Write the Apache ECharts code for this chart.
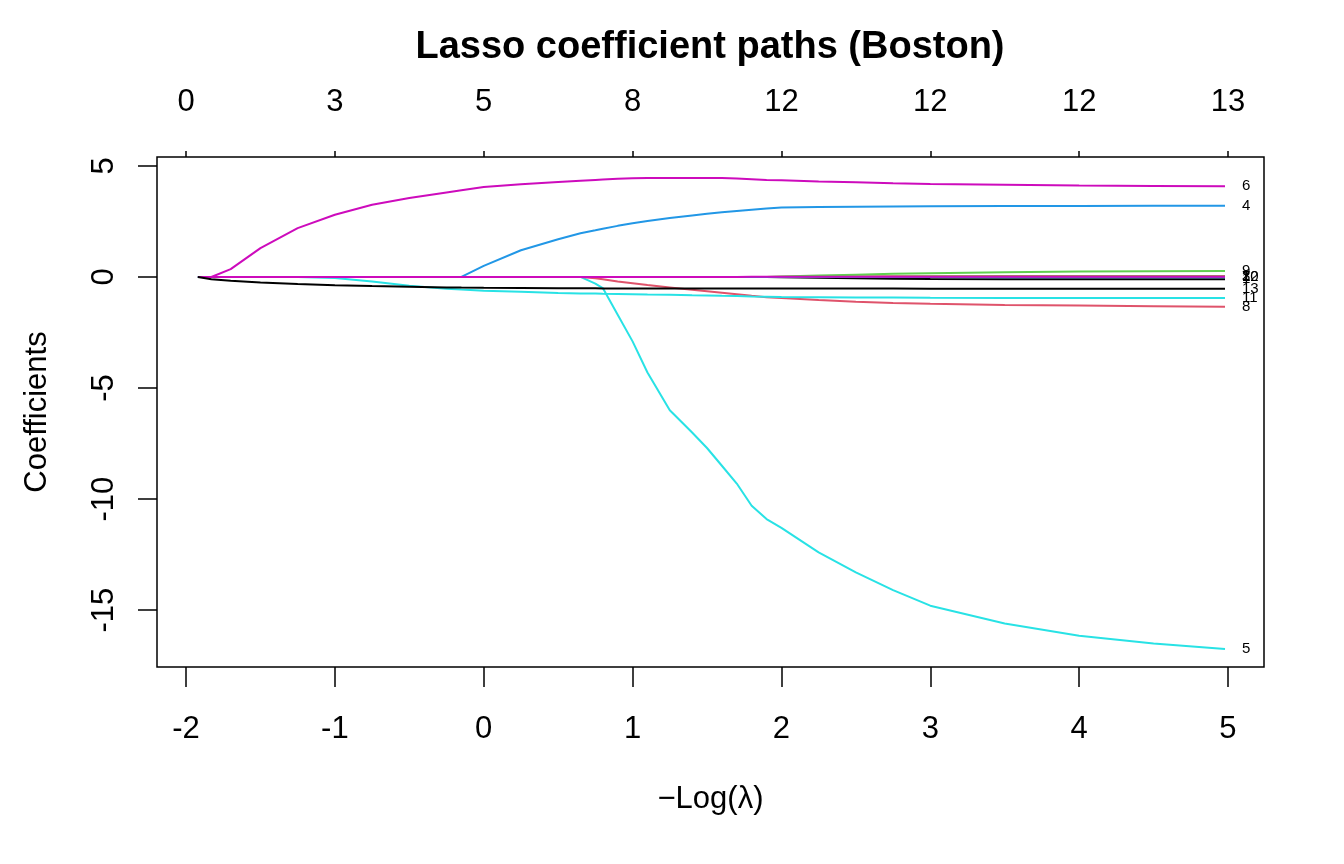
<!DOCTYPE html>
<html>
<head>
<meta charset="utf-8">
<script src="https://cdn.jsdelivr.net/npm/echarts@6/dist/echarts.min.js"></script>
<style>html,body{margin:0;padding:0;background:#fff}#c{width:1344px;height:864px}</style>
</head>
<body>
<div id="c"></div>
<script>
// -log(lambda) grid
const xs = [-1.92,-1.83,-1.7,-1.5,-1.25,-1.0,-0.75,-0.5,-0.25,-0.15,0,0.25,0.5,0.65,0.75,0.8,0.9,1.0,1.1,1.25,1.4,1.5,1.6,1.7,1.8,1.9,2.0,2.25,2.5,2.75,3.0,3.5,4.0,4.5,4.98];
const Z = n => new Array(n).fill(0);
const crim    = Z(26).concat([-0.01,-0.04,-0.06,-0.08,-0.09,-0.1,-0.1,-0.1,-0.1]);
const zn      = Z(26).concat([0.005,0.015,0.025,0.03,0.035,0.04,0.04,0.045,0.045]);
const indus   = Z(27).concat([0.005,0.01,0.01,0.015,0.015,0.02,0.02,0.02]);
const chas    = Z(10).concat([0.5,1.2,1.7,1.97,2.1,2.17,2.3,2.42,2.52,2.65,2.77,2.84,2.91,2.97,3.03,3.08,3.13,3.15,3.16,3.17,3.18,3.19,3.19,3.2,3.2]);
const nox     = Z(14).concat([-0.3,-0.5,-1.7,-2.9,-4.3,-6.0,-7.0,-7.7,-8.5,-9.3,-10.3,-10.9,-11.3,-12.4,-13.3,-14.1,-14.8,-15.6,-16.15,-16.5,-16.75]);
const rm      = [0,0,0.35,1.3,2.2,2.8,3.25,3.55,3.8,3.9,4.05,4.17,4.27,4.33,4.37,4.39,4.42,4.44,4.45,4.46,4.46,4.46,4.45,4.43,4.4,4.37,4.35,4.3,4.26,4.22,4.19,4.15,4.12,4.1,4.08];
const age     = Z(35);
const dis     = Z(14).concat([-0.06,-0.1,-0.2,-0.28,-0.36,-0.47,-0.58,-0.64,-0.71,-0.78,-0.85,-0.91,-0.95,-1.04,-1.12,-1.17,-1.21,-1.26,-1.29,-1.32,-1.34]);
const rad     = Z(26).concat([0.02,0.06,0.1,0.14,0.17,0.21,0.24,0.26,0.27]);
const tax     = Z(29).concat([-0.003,-0.005,-0.008,-0.01,-0.011,-0.012]);
const ptratio = Z(5).concat([-0.05,-0.2,-0.4,-0.53,-0.57,-0.62,-0.67,-0.72,-0.74,-0.75,-0.76,-0.77,-0.78,-0.79,-0.8,-0.82,-0.83,-0.85,-0.86,-0.88,-0.89,-0.9,-0.91,-0.92,-0.93,-0.94,-0.95,-0.95,-0.95,-0.95]);
const black   = Z(21).concat([0.001,0.002,0.003,0.004,0.005,0.006,0.007,0.008,0.009,0.009,0.01,0.01,0.01,0.01]);
const lstat   = [0,-0.1,-0.17,-0.25,-0.32,-0.37,-0.41,-0.44,-0.47,-0.48,-0.49,-0.5,-0.51,-0.51,-0.51,-0.52,-0.52,-0.52,-0.52,-0.52,-0.52,-0.52,-0.52,-0.52,-0.52,-0.52,-0.52,-0.52,-0.52,-0.52,-0.53,-0.53,-0.53,-0.53,-0.53];

const xTicks = [-2,-1,0,1,2,3,4,5];
const dfLabels = [0,3,5,8,12,12,12,13];
const yTicks = [-15,-10,-5,0,5];

const vars = [crim,zn,indus,chas,nox,rm,age,dis,rad,tax,ptratio,black,lstat];
const palette = ['#000000','#DF536B','#61D04F','#2297E6','#28E2E5','#CD0BBC'];

const FONT = 'Liberation Sans, Arial, sans-serif';
const series = vars.map((v, i) => ({
  type: 'line',
  data: xs.map((x, j) => [x, v[j]]),
  showSymbol: false,
  symbol: 'none',
  lineStyle: { color: palette[i % 6], width: 2 },
  itemStyle: { color: palette[i % 6] },
  endLabel: { show: true, formatter: String(i + 1), distance: 17, fontSize: 15, color: '#000', fontFamily: FONT },
  labelLayout: { hideOverlap: false },
  animation: false,
  z: 2 + i
}));

const chart = echarts.init(document.getElementById('c'), null, { renderer: 'canvas' });
chart.setOption({
  animation: false,
  backgroundColor: '#fff',
  graphic: [{
    type: 'text', x: 710, y: 48,
    style: { text: 'Lasso coefficient paths (Boston)', textAlign: 'center', textVerticalAlign: 'middle',
      fontSize: 38, fontWeight: 'bold', fill: '#000', fontFamily: FONT }
  }],
  grid: { left: 157, right: 80, top: 157, bottom: 197, show: true, borderColor: '#000', borderWidth: 1.5, backgroundColor: 'transparent' },
  xAxis: [{
    type: 'value', position: 'bottom', min: -2.195, max: 5.242,
    name: '\u2212Log(\u03bb)', nameLocation: 'middle', nameGap: 117,
    nameTextStyle: { fontSize: 31, color: '#000', fontFamily: FONT },
    axisLine: { show: false, onZero: false },
    splitLine: { show: false },
    axisTick: { show: true, customValues: xTicks, length: 20, inside: false, lineStyle: { color: '#000', width: 1.5 } },
    axisLabel: { customValues: xTicks, margin: 47, fontSize: 31, color: '#000', fontFamily: FONT }
  }, {
    type: 'value', position: 'top', min: -2.195, max: 5.242,
    axisLine: { show: false, onZero: false },
    splitLine: { show: false },
    axisTick: { show: true, customValues: xTicks, length: 6, inside: false, lineStyle: { color: '#000', width: 1.5 } },
    axisLabel: { customValues: xTicks, margin: 39, fontSize: 31, color: '#000', fontFamily: FONT,
      formatter: v => String(dfLabels[xTicks.indexOf(Math.round(v))]) }
  }],
  yAxis: {
    type: 'value', min: -17.56, max: 5.40,
    name: 'Coefficients', nameLocation: 'middle', nameGap: 104, nameRotate: 90,
    nameTextStyle: { fontSize: 31, color: '#000', fontFamily: FONT },
    axisLine: { show: false, onZero: false },
    splitLine: { show: false },
    axisTick: { show: true, customValues: yTicks, length: 19, inside: false, lineStyle: { color: '#000', width: 1.5 } },
    axisLabel: { customValues: yTicks, margin: 37, rotate: 90, fontSize: 31, color: '#000', fontFamily: FONT }
  },
  series: series
});
</script>
</body>
</html>
